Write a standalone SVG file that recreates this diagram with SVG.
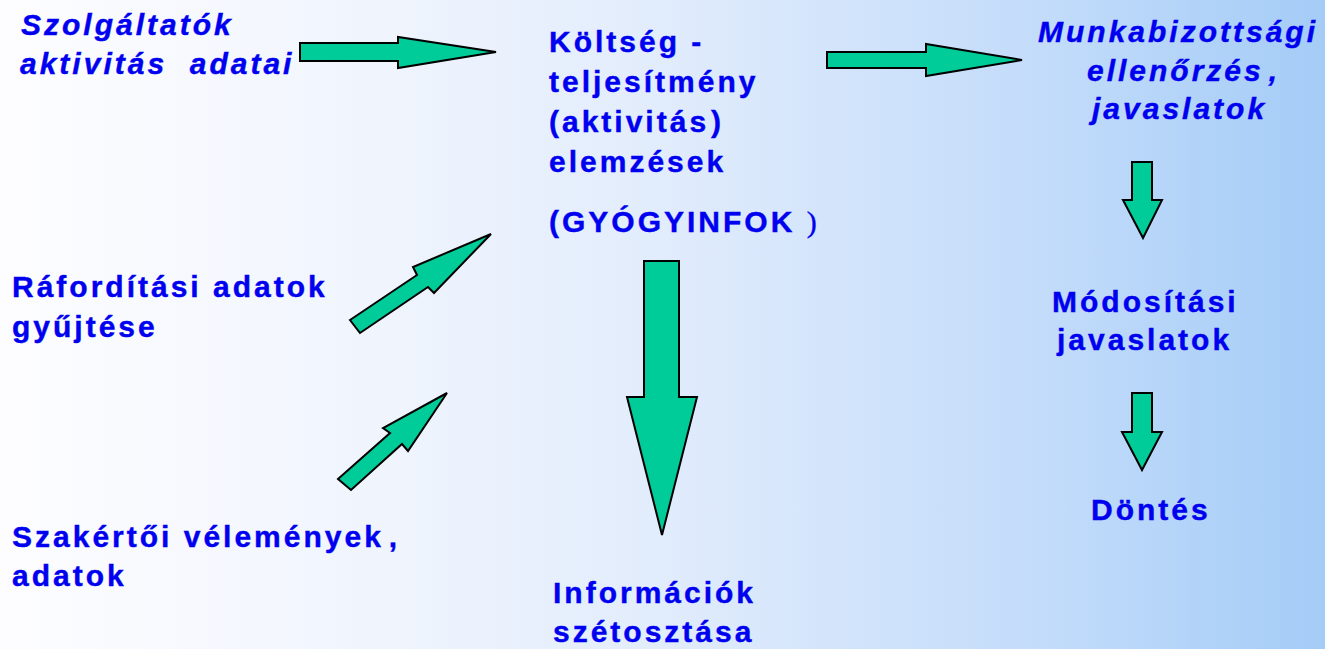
<svg xmlns="http://www.w3.org/2000/svg" width="1325" height="649" viewBox="0 0 1325 649">
<defs>
<linearGradient id="bg" x1="0" y1="0" x2="1" y2="0">
<stop offset="0" stop-color="#fdfdff"/>
<stop offset="0.3" stop-color="#eff4fd"/>
<stop offset="0.5" stop-color="#e1ecfc"/>
<stop offset="0.62" stop-color="#d4e5fb"/>
<stop offset="0.8" stop-color="#c1dbfa"/>
<stop offset="1" stop-color="#a4ccf7"/>
</linearGradient>
</defs>
<style>
.t{font-family:"Liberation Sans",Arial,sans-serif;font-weight:bold;font-size:30px;letter-spacing:3px;fill:#0000f0;white-space:pre;stroke:#0000f0;stroke-width:0.4}
.i{font-style:italic}
.ar{fill:#00cc99;stroke:#000;stroke-width:2;stroke-linejoin:miter}
</style>
<rect width="1325" height="649" fill="url(#bg)"/>
<g id="n-szolgaltatok"><text class="t i" x="21" y="35">Szolgáltatók</text><text class="t i" x="20" y="74">aktivitás  adatai</text></g>
<g id="n-koltseg"><text class="t" x="549" y="52">Költség -</text><text class="t" x="549" y="92">teljesítmény</text><text class="t" x="549" y="132">(aktivitás<tspan dx="2">)</tspan></text><text class="t" x="549" y="172">elemzések</text><text class="t" x="549" y="232">(GYÓGYINFOK <tspan style="font-family:'Liberation Serif',serif;font-weight:normal">)</tspan></text></g>
<g id="n-munkabiz"><text class="t i" x="1038" y="42">Munkabizottsági</text><text class="t i" x="1087" y="81">ellenőrzés<tspan dx="5">,</tspan></text><text class="t i" x="1092" y="119">javaslatok</text></g>
<g id="n-modositasi"><text class="t" x="1052" y="312">Módosítási</text><text class="t" x="1057" y="350">javaslatok</text></g>
<g id="n-dontes"><text class="t" x="1091" y="520">Döntés</text></g>
<g id="n-raforditasi"><text class="t" x="12" y="297">Ráfordítási adatok</text><text class="t" x="12" y="337">gyűjtése</text></g>
<g id="n-szakertoi"><text class="t" x="12" y="547">Szakértői vélemények<tspan dx="5">,</tspan></text><text class="t" x="12" y="586">adatok</text></g>
<g id="n-informaciok"><text class="t" x="553" y="603">Információk</text><text class="t" x="553" y="642">szétosztása</text></g>
<g id="connectors">
<polygon class="ar" points="300,43 398,43 398,37 496,52 398,68 398,61 300,61"/>
<polygon class="ar" points="827,52 926,52 926,44 1022,60 926,76 926,68 827,68"/>
<polygon class="ar" points="1132,162 1152,162 1152,200 1162,200 1143,238 1123,200 1132,200"/>
<polygon class="ar" points="1132,393 1152,393 1152,432 1162,432 1142,470 1122,432 1132,432"/>
<polygon class="ar" points="644,261 679,261 679,397 697,397 662,535 627,397 644,397"/>
<polygon class="ar" points="350,320 417,275 413,267 491,234 434,293 428,287 360,333"/>
<polygon class="ar" points="338,479 390,433 383,428 447,393 408,451 402,444 351,490"/>
</g>
</svg>
